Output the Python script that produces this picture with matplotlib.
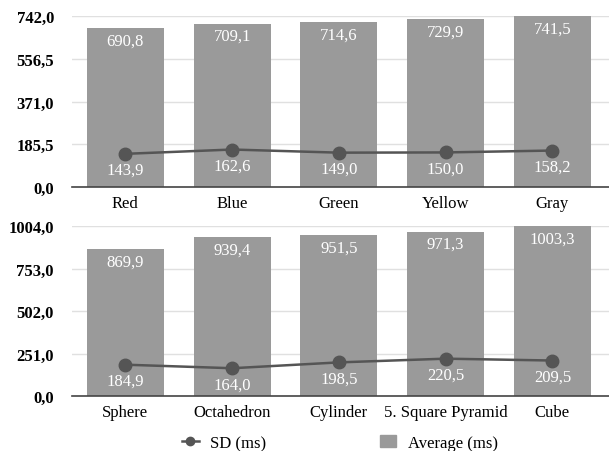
import matplotlib.pyplot as plt
from matplotlib.lines import Line2D
from matplotlib.patches import Patch

colors = ["Red", "Blue", "Green", "Yellow", "Gray"]
color_avg = [690.8, 709.1, 714.6, 729.9, 741.5]
color_sd = [143.9, 162.6, 149.0, 150.0, 158.2]
color_ticks = [0.0, 185.5, 371.0, 556.5, 742.0]

shapes = ["Sphere", "Octahedron", "Cylinder", "5. Square Pyramid", "Cube"]
shape_avg = [869.9, 939.4, 951.5, 971.3, 1003.3]
shape_sd = [184.9, 164.0, 198.5, 220.5, 209.5]
shape_ticks = [0.0, 251.0, 502.0, 753.0, 1004.0]

plt.rcParams['font.family'] = ['Liberation Serif', 'DejaVu Serif']

bar_color = '#9a9a9a'
line_color = '#555555'


def fmt(v):
    return f"{v:.1f}".replace('.', ',')


def draw(ax, cats, avg, sd, ticks):
    x = list(range(len(cats)))
    ax.bar(x, avg, width=0.72, color=bar_color, zorder=2)
    ax.plot(x, sd, color=line_color, lw=1.8, marker='o', ms=9, zorder=3)
    for xi, a, s in zip(x, avg, sd):
        ax.annotate(fmt(a), (xi, a), xytext=(0, -9), textcoords='offset points',
                    ha='center', va='center', color='white', fontsize=12, zorder=4)
        ax.annotate(fmt(s), (xi, s), xytext=(0, -11.5), textcoords='offset points',
                    ha='center', va='center', color='white', fontsize=12, zorder=4)
    ax.set_xlim(-0.5, len(cats) - 0.47)
    ax.set_ylim(0, ticks[-1])
    ax.set_yticks(ticks)
    ax.set_yticklabels([fmt(t) for t in ticks], fontsize=12, fontweight='bold')
    ax.set_xticks(x)
    ax.set_xticklabels(cats, fontsize=12)
    ax.tick_params(length=0, pad=6)
    ax.tick_params(axis='y', pad=13)
    ax.grid(axis='y', color='#e0e0e0', lw=1, zorder=0)
    for sp in ['top', 'right', 'left']:
        ax.spines[sp].set_visible(False)
    ax.spines['bottom'].set_color('#444444')
    ax.spines['bottom'].set_linewidth(1.2)
    ax.spines['bottom'].set_zorder(5)


fig = plt.figure(figsize=(6.09, 4.52), dpi=100)
ax1 = fig.add_axes([72 / 609, 1 - 188 / 452, 1 - 72 / 609, (188 - 17) / 452])
ax2 = fig.add_axes([72 / 609, 1 - 397 / 452, 1 - 72 / 609, (397 - 227) / 452])
draw(ax1, colors, color_avg, color_sd, color_ticks)
draw(ax2, shapes, shape_avg, shape_sd, shape_ticks)

handles = [Line2D([], [], color=line_color, lw=1.8, marker='o', ms=6),
           Patch(color=bar_color)]
fig.legend(handles, ["SD (ms)", "Average (ms)"], loc='center',
           bbox_to_anchor=(340 / 609, 1 - 444 / 452), ncol=2, frameon=False,
           fontsize=12, columnspacing=6.8, handlelength=1.0, handletextpad=0.7)

fig.savefig('out.png', dpi=100)
